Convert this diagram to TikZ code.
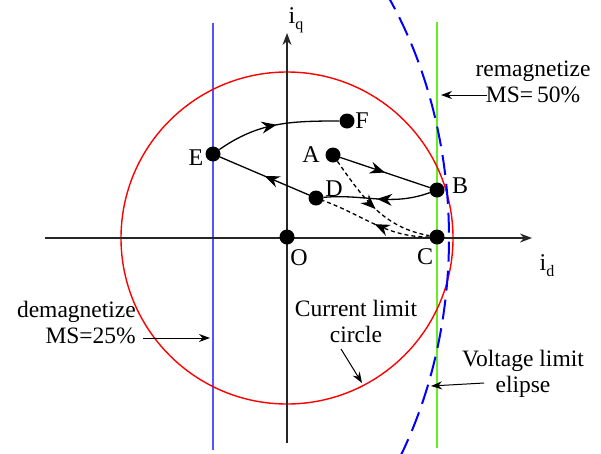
\documentclass[tikz,border=0pt]{standalone}
\usepackage{fontspec}
\setmainfont{Liberation Serif}
\usetikzlibrary{arrows.meta, positioning, decorations.markings}
\definecolor{demagblue}{HTML}{5555FF}
\definecolor{remaggreen}{HTML}{66EE22}
\tikzset{
    axis/.style={
        -{Stealth[length=12pt, width=9pt]}, line width=1.3pt, draw=black!85
    },
    point/.style={
        circle, fill=black, inner sep=0pt, minimum size=15pt
    },
    ptlabel/.style={
        font=\fontsize{24}{26}\selectfont, inner sep=1pt
    },
    note/.style={
        align=center, font=\fontsize{23.5}{26}\selectfont, inner sep=0pt
    },
    pointer/.style={
        -{Stealth[length=11pt, width=8pt]}, line width=1pt
    },
    path/.style={
        line width=1.3pt,
        postaction={decorate},
        decoration={markings, mark=at position 0.5 with {\arrow{Stealth[length=15pt, width=12pt, inset=5pt]}}}
    },
    dashpath/.style={
        path, dash pattern=on 4pt off 3pt
    }
}
\newcommand{\axlabel}[2]{#1\raisebox{-6pt}{\fontsize{16}{16}\selectfont #2}}
\begin{document}
\begin{tikzpicture}[x=1pt, y=-1pt]
    \useasboundingbox (0,0) rectangle (601,453);
    \clip (0,0) rectangle (601,453);

    % limit lines
    \draw[demagblue, line width=2pt] (213,23) -- (213,450);
    \draw[remaggreen, line width=2pt] (437,22) -- (437,448);
    \draw[red, line width=1.4pt] (287,238) circle[radius=166];
    \draw[blue, line width=2pt, dash pattern=on 20pt off 9pt]
        plot[domain=-38:34, samples=80] ({149+300*cos(\x)}, {238+400*sin(\x)});

    % axes
    \draw[axis] (45,238) -- (532,238);
    \draw[axis] (287,443) -- (287,33);
    \node[ptlabel] (iq) at (296,20) {\axlabel{i}{q}};
    \node[ptlabel] (id) at (547,266) {\axlabel{i}{d}};

    % operating points
    \node[point] (O) at (287,237) {};
    \node[point] (A) at (333,155) {};
    \node[point] (B) at (437,190) {};
    \node[point] (C) at (437,237) {};
    \node[point] (D) at (316,198) {};
    \node[point] (E) at (213,154) {};
    \node[point] (F) at (347,121) {};

    \node[ptlabel] at (299,258) {O};
    \node[ptlabel] at (311,155) {A};
    \node[ptlabel] at (460,186) {B};
    \node[ptlabel] at (425,257) {C};
    \node[ptlabel] at (334,189) {D};
    \node[ptlabel] at (196,158) {E};
    \node[ptlabel] at (362,121) {F};

    % trajectories
    \draw[path] (A) -- (B);
    \draw[path] (B) to[out=200, in=5] (D);
    \draw[path] (D) -- (E);
    \draw[path] (E) to[out=35, in=180] (F);
    \draw[dashpath] (A) to[out=-55, in=170] (C);
    \draw[dashpath] (C) to[out=180, in=-20] (D);

    % notes
    \node[note] (remag) at (533,82) {remagnetize\\MS=\,50\%};
    \coordinate (remagfrom) at (487,95);
    \coordinate (remagtip) at (441,95);
    \draw[pointer] (remagfrom) -- (remagtip);

    \node[note, align=right, anchor=east] (demag) at (136,322) {demagnetize\\MS=25\%};
    \coordinate (demagfrom) at (143,338);
    \coordinate (demagtip) at (210,338);
    \draw[pointer] (demagfrom) -- (demagtip);

    \node[note] (curr) at (356,321) {Current limit\\circle};
    \coordinate (currfrom) at (341,349);
    \coordinate (currtip) at (362,383);
    \draw[pointer] (currfrom) -- (currtip);

    \node[note] (volt) at (523,374) {Voltage limit\\elipse};
    \coordinate (voltfrom) at (484,383);
    \coordinate (volttip) at (431,386);
    \draw[pointer] (voltfrom) -- (volttip);
\end{tikzpicture}
\end{document}
